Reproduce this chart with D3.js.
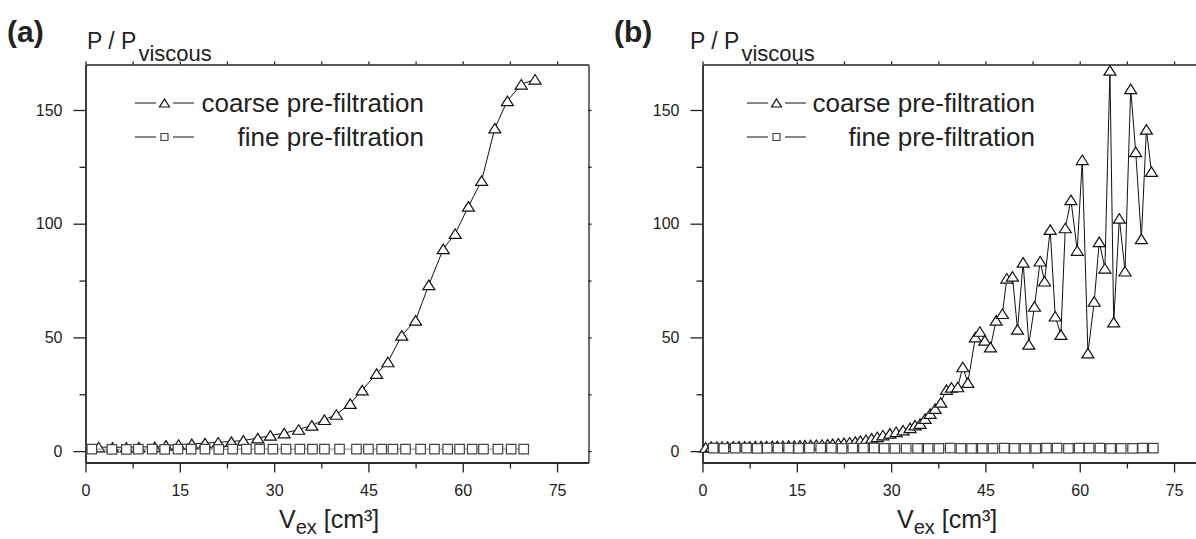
<!DOCTYPE html>
<html lang="en">
<head>
<meta charset="UTF-8">
<title>P / P viscous vs V ex — coarse and fine pre-filtration</title>
<script src="https://cdn.jsdelivr.net/npm/d3@7/dist/d3.min.js"></script>
<style>
  * { margin: 0; padding: 0; }
  body { background: #fff; overflow: hidden; }
  svg { display: block; font-family: 'Liberation Sans', Arial, sans-serif; }
  .axis path, .axis line { stroke: #222; stroke-width: 1.3; }
  .axis text { font-family: 'Liberation Sans', Arial, sans-serif; font-size: 16px; fill: #222; }
  .series-line { fill: none; stroke: #111; stroke-width: 1; }
  .fine-line { fill: none; stroke: #666; stroke-width: 0.8; }
  .tri { fill: #fff; stroke: #111; stroke-width: 1.2; }
  .sq { fill: #fff; stroke: #444; stroke-width: 1.2; }
</style>
</head>
<body>
<svg id="chart" width="1196" height="539"></svg>
<script>
// ─── Data ────────────────────────────────────────────────────────────────────

const xMajorTicks = [0, 15, 30, 45, 60, 75];
const xMinorTicks = [7.5, 22.5, 37.5, 52.5, 67.5];
const yMajorTicks = [0, 50, 100, 150];
const yMinorTicks = [25, 75, 125];

const legendLabels = ['coarse pre-filtration', 'fine pre-filtration'];

// (a)
const aCoarseX = [2.1, 4.3, 6.5, 8.5, 11.0, 12.8, 14.8, 16.9, 19.0, 21.1, 23.2, 25.1, 27.4, 29.4, 31.6, 33.9,
  36.0, 38.0, 39.9, 42.1, 44.0, 46.3, 48.1, 50.3, 52.5, 54.6, 56.9, 58.8, 60.9, 63.0, 65.1, 67.1, 69.3, 71.5];
const aCoarseY = [1.8, 1.7, 1.7, 1.8, 1.9, 2.5, 2.9, 3.2, 3.5, 3.9, 4.2, 4.7, 5.7, 6.9, 7.9, 9.5,
  11.3, 13.8, 16.1, 20.9, 26.8, 34.1, 39.2, 50.9, 57.5, 73.1, 88.9, 95.6, 107.6, 118.9, 142.0, 154.0, 161.3, 163.5];

const aFineX = [1.0, 4.2, 6.5, 8.4, 10.6, 12.6, 14.7, 16.8, 19.0, 21.2, 23.4, 25.6, 27.7, 29.8, 31.9, 34.1,
  36.1, 38.0, 40.4, 43.1, 45.0, 47.1, 48.9, 50.9, 53.3, 55.5, 57.6, 59.5, 61.5, 63.3, 65.6, 67.7, 69.7];
const aFineY = [0.9, 0.8, 0.8, 0.9, 0.9, 0.8, 0.9, 0.9, 0.9, 0.8, 0.9, 0.9, 0.9, 0.9, 0.9, 0.9,
  0.9, 0.9, 0.9, 0.9, 0.9, 0.9, 0.9, 0.9, 0.9, 0.9, 0.9, 0.9, 0.9, 0.9, 0.9, 0.9, 0.9];

// (b)
const bCoarseX = [0.5, 1.4, 2.3, 3.1, 4.0, 4.9, 5.8, 6.7, 7.5, 8.4, 9.3, 10.2, 11.1, 11.9, 12.8, 13.7,
  14.6, 15.5, 16.3, 17.2, 18.1, 19.0, 19.9, 20.7, 21.6, 22.5, 23.4, 24.3, 25.1, 26.0, 26.9, 27.8,
  28.7, 29.8, 30.8, 31.9, 33.0, 33.8, 34.6, 35.4, 36.2, 37.0, 37.9, 38.8, 39.6, 40.6, 41.4, 42.2,
  43.4, 44.1, 44.9, 45.8, 46.7, 47.7, 48.4, 49.3, 50.1, 51.0, 51.9, 52.8, 53.7, 54.4, 55.3, 56.1,
  57.0, 57.7, 58.6, 59.6, 60.4, 61.3, 62.3, 63.1, 64.0, 64.8, 65.4, 66.3, 67.2, 68.1, 68.9, 69.8,
  70.6, 71.4];
const bCoarseY = [1.6, 2.0, 2.0, 2.0, 2.0, 2.1, 2.1, 2.1, 2.1, 2.2, 2.2, 2.2, 2.3, 2.3, 2.3, 2.4,
  2.4, 2.5, 2.6, 2.7, 2.8, 2.9, 3.0, 3.2, 3.4, 3.6, 3.9, 4.2, 4.6, 5.0, 5.6, 6.3,
  7.0, 7.8, 8.5, 9.2, 10.2, 11.4, 12.1, 14.3, 16.5, 18.7, 21.4, 27.0, 28.0, 28.2, 37.0, 30.1,
  50.1, 52.6, 48.7, 45.7, 57.5, 60.4, 76.0, 76.8, 53.5, 83.0, 46.9, 63.6, 83.5, 74.7, 97.4, 59.3,
  51.2, 98.1, 110.5, 88.2, 128.1, 43.1, 65.8, 92.0, 80.4, 167.4, 56.7, 102.3, 79.1, 159.3, 131.6, 93.3,
  141.5, 122.9];

const bFineX = [1.7, 3.4, 5.2, 7.0, 8.7, 10.3, 12.0, 13.7, 15.3, 17.0, 18.8, 20.5, 22.2, 23.9, 25.6, 27.3,
  28.9, 30.6, 32.4, 34.2, 35.9, 37.6, 39.4, 41.1, 42.8, 44.5, 46.2, 48.0, 49.6, 51.3, 53.0, 54.7,
  56.4, 58.2, 59.9, 61.5, 63.2, 64.9, 66.6, 68.4, 70.0, 71.7];
const bFineY = [1.3, 1.2, 1.3, 1.3, 1.2, 1.3, 1.3, 1.3, 1.2, 1.3, 1.3, 1.3, 1.2, 1.3, 1.3, 1.3,
  1.2, 1.2, 1.2, 1.2, 1.2, 1.2, 1.3, 1.2, 1.2, 1.2, 1.2, 1.3, 1.2, 1.2, 1.2, 1.3,
  1.3, 1.2, 1.3, 1.3, 1.3, 1.2, 1.2, 1.2, 1.3, 1.3];

// ─── Layout ──────────────────────────────────────────────────────────────────

const X_DOMAIN = [0, 80];
const Y_DOMAIN = [-5, 170];
const PLOT_W = 503;
const PLOT_TOP = 64.5;
const PLOT_BOTTOM = 462.5;

const panels = [
  { tag: '(a)', left: 85.5, tagX: 7, labelX: 87, legendX: 135, legendRight: 424, titleX: 279,
    coarse: d3.zip(aCoarseX, aCoarseY), fine: d3.zip(aFineX, aFineY) },
  { tag: '(b)', left: 702.5, tagX: 614, labelX: 690, legendX: 747, legendRight: 1035, titleX: 897,
    coarse: d3.zip(bCoarseX, bCoarseY), fine: d3.zip(bFineX, bFineY) },
];

// triangle is centred on its bounding box, like the plotting program does
function triPath(w, h) {
  return `M0,${-h / 2}L${w / 2},${h / 2}L${-w / 2},${h / 2}Z`;
}
function sqPath(s) {
  return `M${-s / 2},${-s / 2}h${s}v${s}h${-s}Z`;
}

// ─── Draw one panel ──────────────────────────────────────────────────────────

function drawPanel(svg, p) {
  const x = d3.scaleLinear().domain(X_DOMAIN).range([p.left, p.left + PLOT_W]);
  const y = d3.scaleLinear().domain(Y_DOMAIN).range([PLOT_BOTTOM, PLOT_TOP]);
  const g = svg.append('g');

  // frame top / right with small outward ticks
  g.append('g').attr('class', 'axis')
    .attr('transform', `translate(0,${PLOT_TOP})`)
    .call(d3.axisTop(x).tickValues(xMajorTicks.concat(xMinorTicks)).tickSize(3).tickSizeOuter(0).tickFormat(''));
  g.append('g').attr('class', 'axis')
    .attr('transform', `translate(${p.left + PLOT_W},0)`)
    .call(d3.axisRight(y).tickValues(yMajorTicks.concat(yMinorTicks)).tickSize(3).tickSizeOuter(0).tickFormat(''));

  // bottom axis
  g.append('g').attr('class', 'axis')
    .attr('transform', `translate(0,${PLOT_BOTTOM})`)
    .call(d3.axisBottom(x).tickValues(xMinorTicks).tickSize(6).tickSizeOuter(0).tickFormat(''));
  g.append('g').attr('class', 'axis')
    .attr('transform', `translate(0,${PLOT_BOTTOM})`)
    .call(d3.axisBottom(x).tickValues(xMajorTicks).tickSize(10).tickSizeOuter(0).tickPadding(12));

  // left axis
  g.append('g').attr('class', 'axis')
    .attr('transform', `translate(${p.left},0)`)
    .call(d3.axisLeft(y).tickValues(yMinorTicks).tickSize(6).tickSizeOuter(0).tickFormat(''));
  g.append('g').attr('class', 'axis')
    .attr('transform', `translate(${p.left},0)`)
    .call(d3.axisLeft(y).tickValues(yMajorTicks).tickSize(12).tickSizeOuter(0).tickPadding(11));

  g.selectAll('.axis').attr('font-family', null).attr('font-size', null);

  // series
  const line = d3.line().x(d => x(d[0])).y(d => y(d[1]));

  g.append('path').attr('class', 'series-line').attr('d', line(p.coarse));
  g.selectAll('.tri').data(p.coarse).enter().append('path')
    .attr('class', 'tri')
    .attr('d', triPath(12, 9.5))
    .attr('transform', d => `translate(${x(d[0])},${y(d[1])})`);

  g.append('path').attr('class', 'fine-line').attr('d', line(p.fine));
  g.selectAll('.sq').data(p.fine).enter().append('path')
    .attr('class', 'sq')
    .attr('d', sqPath(9.5))
    .attr('transform', d => `translate(${x(d[0])},${y(d[1])})`);

  // panel tag and y label
  g.append('text').attr('x', p.tagX).attr('y', 42)
    .attr('font-size', 30).attr('font-weight', 'bold').attr('fill', '#222')
    .text(p.tag);
  const yl = g.append('text').attr('x', p.labelX).attr('y', 49).attr('font-size', 23).attr('fill', '#222');
  yl.append('tspan').text('P / P');
  yl.append('tspan').attr('dx', 2).attr('dy', 12).attr('font-size', 22).text('viscous');

  // x title
  const xt = g.append('text').attr('x', p.titleX).attr('y', 528).attr('font-size', 25).attr('fill', '#222');
  xt.append('tspan').text('V');
  xt.append('tspan').attr('dy', 6).attr('font-size', 20).text('ex');
  xt.append('tspan').attr('dy', -6).text(' [cm\u00B3]');

  // legend
  const rows = [
    { label: legendLabels[0], y: 103, shape: 'tri' },
    { label: legendLabels[1], y: 137, shape: 'sq' },
  ];
  rows.forEach(r => {
    const lg = g.append('g').attr('transform', `translate(${p.legendX},${r.y})`);
    lg.append('line').attr('x1', 0).attr('x2', 21).attr('stroke', '#111').attr('stroke-width', 1);
    lg.append('line').attr('x1', 38).attr('x2', 59).attr('stroke', '#111').attr('stroke-width', 1);
    lg.append('path')
      .attr('class', r.shape)
      .attr('d', r.shape === 'tri' ? triPath(10, 8) : sqPath(7))
      .attr('transform', 'translate(29.5,0)')
      .attr('stroke-width', 1);
    g.append('text')
      .attr('x', p.legendRight).attr('y', r.y + 9)
      .attr('text-anchor', 'end')
      .attr('font-size', 26).attr('fill', '#222')
      .text(r.label);
  });
}

// ─── Main ────────────────────────────────────────────────────────────────────

const svg = d3.select('#chart');
svg.append('rect').attr('width', 1196).attr('height', 539).attr('fill', '#fff');
panels.forEach(p => drawPanel(svg, p));
</script>
</body>
</html>
